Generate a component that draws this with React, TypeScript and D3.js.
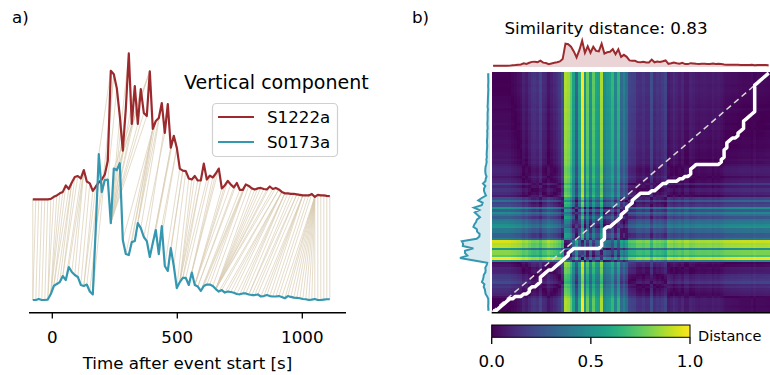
import React, { useMemo } from 'react';
import * as d3 from 'd3';

// ---- Data (normalised amplitudes, one sample every 12 s) ----
const S1222A = [
  0, 0, 0, 0, 0, 0, 0.003, 0.017, 0.027, 0.041,
  0.051, 0.095, 0.071, 0.116, 0.153, 0.160, 0.143, 0.201, 0.122, 0.109,
  0.058, 0.088, 0.116, 0.136, 0.170, 0.265, 0.881, 0.857, 0.762, 0.571,
  0.333, 0.619, 1.000, 0.517, 0.776, 0.517, 0.755, 0.592, 0.571, 0.878,
  0.483, 0.537, 0.558, 0.660, 0.456, 0.653, 0.354, 0.435, 0.354, 0.211,
  0.197, 0.194, 0.143, 0.136, 0.160, 0.129, 0.129, 0.245, 0.136, 0.163,
  0.150, 0.177, 0.211, 0.075, 0.095, 0.126, 0.102, 0.082, 0.112, 0.065,
  0.065, 0.102, 0.092, 0.075, 0.068, 0.075, 0.078, 0.071, 0.068, 0.088,
  0.071, 0.078, 0.068, 0.051, 0.041, 0.041, 0.037, 0.037, 0.034, 0.031,
  0.027, 0.027, 0.027, 0.037, 0.017, 0.031, 0.027, 0.027, 0.024, 0.022,
];
const S0173A = [
  0, 0, 0.007, 0, 0, 0.003, 0.041, 0.096, 0.110, 0.123,
  0.164, 0.137, 0.226, 0.192, 0.171, 0.158, 0.103, 0.096, 0.106, 0.058,
  0.038, 0.500, 1.000, 0.740, 0.822, 0.825, 0.527, 0.901, 0.890, 0.938,
  0.411, 0.315, 0.308, 0.397, 0.404, 0.527, 0.493, 0.432, 0.404, 0.295,
  0.390, 0.479, 0.315, 0.507, 0.233, 0.199, 0.356, 0.233, 0.082, 0.123,
  0.151, 0.151, 0.103, 0.188, 0.103, 0.092, 0.062, 0.096, 0.106, 0.106,
  0.096, 0.075, 0.058, 0.068, 0.051, 0.058, 0.055, 0.050, 0.041, 0.039,
  0.045, 0.045, 0.038, 0.034, 0.034, 0.038, 0.024, 0.027, 0.034, 0.027,
  0.024, 0.024, 0.027, 0.021, 0.012, 0.027, 0.021, 0.016, 0.014, 0.012,
  0.007, 0.005, 0, 0.003, 0.007, 0, 0, 0.003, 0.005, 0.005,
];
const START_TIME = -78; // s
const SAMPLE_INTERVAL = 12; // s
const SERIES_NAMES = ['S1222a', 'S0173a'];
const X_TICKS = [0, 500, 1000];
const CBAR_TICKS = [0, 0.5, 1.0];
const SIMILARITY = 0.83;
const RED_OFFSET = 0.69;

const RED = '#9b2a2e';
const CYAN = '#3597b0';
const FONT = 'DejaVu Sans, sans-serif';

function dtwPath(a: number[], b: number[]): [number, number][] {
  const n = a.length, m = b.length;
  const D: number[][] = [];
  for (let i = 0; i < n; i++) {
    D.push(new Array(m).fill(Infinity));
    for (let j = 0; j < m; j++) {
      const cost = Math.abs(a[i] - b[j]);
      let best = 0;
      if (i > 0 || j > 0) {
        best = Math.min(
          i > 0 ? D[i - 1][j] : Infinity,
          j > 0 ? D[i][j - 1] : Infinity,
          i > 0 && j > 0 ? D[i - 1][j - 1] : Infinity
        );
      }
      D[i][j] = cost + best;
    }
  }
  let i = n - 1, j = m - 1;
  const path: [number, number][] = [[i, j]];
  while (i > 0 || j > 0) {
    if (i === 0) j--;
    else if (j === 0) i--;
    else {
      const d = D[i - 1][j - 1], h = D[i - 1][j], v = D[i][j - 1];
      if (d <= h && d <= v) { i--; j--; }
      else if (h < v) i--;
      else j--;
    }
    path.push([i, j]);
  }
  return path.reverse();
}

export default function App() {
  const N = S1222A.length;
  const M = S0173A.length;
  const times = S1222A.map((_, k) => START_TIME + SAMPLE_INTERVAL * k);
  const path = useMemo(() => dtwPath(S1222A, S0173A), []);

  // Panel a scales
  const xA = d3.scaleLinear().domain([0, 1000]).range([52.3, 302.3]);
  const yA = d3.scaleLinear().domain([0, 1.7]).range([300, 52]);
  const redLine = d3.line<number>().x((_, k) => xA(times[k])).y((v) => yA(v + RED_OFFSET));
  const cyanLine = d3.line<number>().x((_, k) => xA(times[k])).y((v) => yA(v));

  // Panel b scales
  const HX0 = 491.7, HX1 = 770, HY0 = 72, HY1 = 312;
  const xH = d3.scaleLinear().domain([-0.5, N - 0.5]).range([HX0, HX1]);
  const yH = d3.scaleLinear().domain([-0.5, M - 0.5]).range([HY1, HY0]);
  const color = d3.scaleSequential(d3.interpolateViridis).domain([0, 1]);

  const cells: JSX.Element[] = [];
  const cw = xH(1) - xH(0);
  const ch = yH(0) - yH(1);
  for (let i = 0; i < N; i++) {
    for (let j = 0; j < M; j++) {
      const d = Math.abs(S1222A[i] - S0173A[j]);
      cells.push(
        <rect key={i * M + j} x={xH(i - 0.5)} y={yH(j + 0.5)} width={cw + 0.3} height={ch + 0.3} fill={color(d)} />
      );
    }
  }

  const topY = d3.scaleLinear().domain([0, 1]).range([65.7, 40.7]);
  const topArea = d3.area<number>().x((_, i) => xH(i)).y0(67).y1((v) => topY(v));
  const topLine = d3.line<number>().x((_, i) => xH(i)).y((v) => topY(v));
  const leftX = d3.scaleLinear().domain([0, 1]).range([488.3, 460]);
  const leftArea = d3.area<number>().y((_, j) => yH(j)).x0(490).x1((v) => leftX(v));
  const leftLine = d3.line<number>().y((_, j) => yH(j)).x((v) => leftX(v));
  const pathLine = d3.line<[number, number]>().x((p) => xH(p[0])).y((p) => yH(p[1]));

  const cb = d3.scaleLinear().domain([0, 1]).range([491.7, 690]);
  const stops = d3.range(0, 1.0001, 0.05);

  return (
    <svg width={770} height={375} style={{ position: 'absolute', left: 0, top: 0, fontFamily: FONT }}>
      <rect x={0} y={0} width={770} height={375} fill="white" />
      {/* Panel a */}
      <text x={12} y={17} dy="0.35em" fontSize={16.7}>a)</text>
      <g>
        {path.map(([i, j], k) => (
          <line key={k} x1={xA(times[i])} y1={yA(S1222A[i] + RED_OFFSET)} x2={xA(times[j])} y2={yA(S0173A[j])}
            stroke="#d8cbb0" strokeOpacity={0.75} strokeWidth={0.9} />
        ))}
      </g>
      <path d={redLine(S1222A) || ''} fill="none" stroke={RED} strokeWidth={2.2} strokeLinejoin="round" />
      <path d={cyanLine(S0173A) || ''} fill="none" stroke={CYAN} strokeWidth={2.2} strokeLinejoin="round" />
      <line x1={29} x2={346} y1={312.7} y2={312.7} stroke="black" strokeWidth={1.4} />
      {X_TICKS.map((t) => (
        <g key={t}>
          <line x1={xA(t)} x2={xA(t)} y1={312.7} y2={318.5} stroke="black" strokeWidth={1.3} />
          <text x={xA(t)} y={337} dy="0.35em" textAnchor="middle" fontSize={16.7}>{t}</text>
        </g>
      ))}
      <text x={187.5} y={363} dy="0.35em" textAnchor="middle" fontSize={16.7}>Time after event start [s]</text>
      <text x={184} y={82} dy="0.35em" fontSize={19}>Vertical component</text>
      <rect x={212.5} y={103.5} width={125} height={53} rx={4} fill="white" fillOpacity={0.8} stroke="#d0d0d0" strokeWidth={1.2} />
      {SERIES_NAMES.map((name, k) => (
        <g key={name}>
          <line x1={218} x2={254} y1={117 + 25 * k} y2={117 + 25 * k} stroke={k === 0 ? RED : CYAN} strokeWidth={2.2} />
          <text x={267} y={117 + 25 * k} dy="0.35em" fontSize={16.7}>{name}</text>
        </g>
      ))}

      {/* Panel b */}
      <text x={412} y={17} dy="0.35em" fontSize={16.7}>b)</text>
      <text x={606} y={28} dy="0.35em" textAnchor="middle" fontSize={16.7}>Similarity distance: {SIMILARITY.toFixed(2)}</text>
      <path d={topArea(S1222A) || ''} fill={RED} fillOpacity={0.2} />
      <path d={topLine(S1222A) || ''} fill="none" stroke={RED} strokeWidth={2} />
      <path d={leftArea(S0173A) || ''} fill={CYAN} fillOpacity={0.2} />
      <path d={leftLine(S0173A) || ''} fill="none" stroke={CYAN} strokeWidth={2} />
      <g shapeRendering="crispEdges">{cells}</g>
      <line x1={HX0} y1={HY1} x2={HX1} y2={HY0} stroke="#d9d9d9" strokeWidth={1.5} strokeDasharray="6,4" />
      <path d={pathLine(path) || ''} fill="none" stroke="white" strokeWidth={3.5} strokeLinejoin="round" />
      <line x1={HX0} x2={HX1} y1={HY1 + 0.8} y2={HY1 + 0.8} stroke="black" strokeWidth={1.6} />

      {/* Colorbar */}
      <defs>
        <linearGradient id="viridis" x1="0" x2="1" y1="0" y2="0">
          {stops.map((s) => (
            <stop key={s} offset={`${s * 100}%`} stopColor={color(s)} />
          ))}
        </linearGradient>
      </defs>
      <rect x={cb(0)} y={325} width={cb(1) - cb(0)} height={12.3} fill="url(#viridis)" stroke="black" strokeWidth={1} />
      {CBAR_TICKS.map((t) => (
        <g key={t}>
          <line x1={cb(t)} x2={cb(t)} y1={337.3} y2={344} stroke="black" strokeWidth={1.3} />
          <text x={cb(t)} y={361} dy="0.35em" textAnchor="middle" fontSize={16.7}>{t.toFixed(1)}</text>
        </g>
      ))}
      <text x={698} y={336} dy="0.35em" fontSize={14.5}>Distance</text>
    </svg>
  );
}
